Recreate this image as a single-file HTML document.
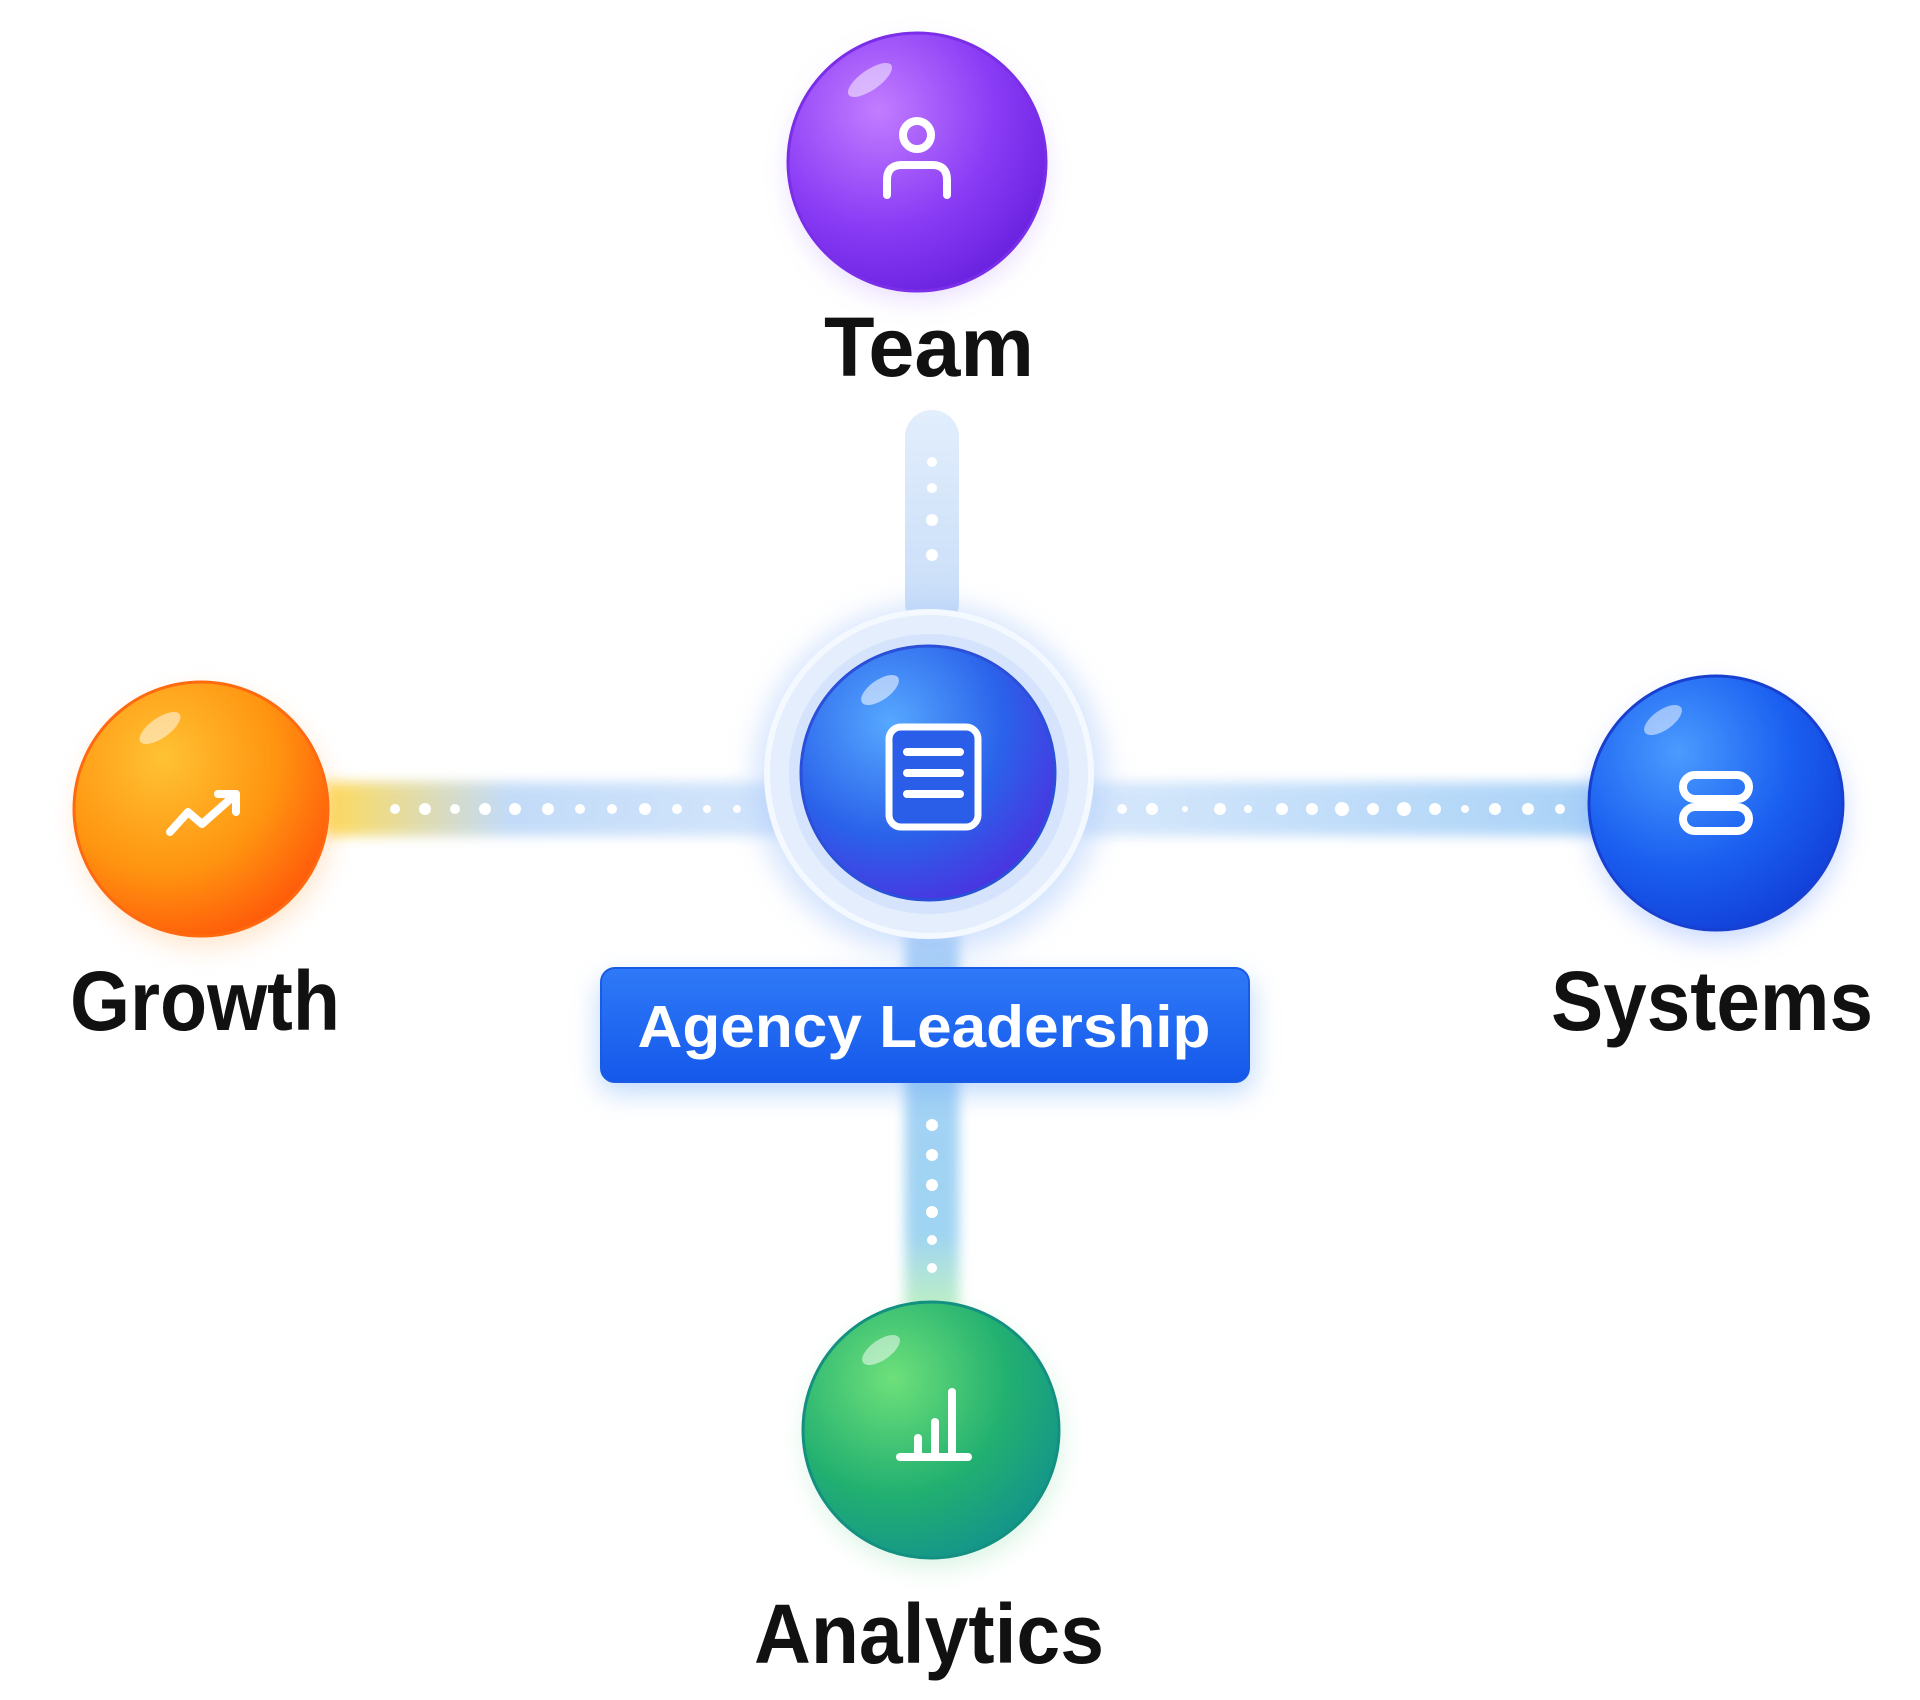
<!DOCTYPE html>
<html><head><meta charset="utf-8"><style>
html,body{margin:0;padding:0;background:#fff;width:1920px;height:1700px;overflow:hidden}
svg{display:block}
text{font-family:"Liberation Sans",sans-serif;font-weight:bold}
</style></head><body>
<svg width="1920" height="1700" viewBox="0 0 1920 1700">
<defs>
<filter id="blur" x="-50%" y="-50%" width="200%" height="200%"><feGaussianBlur stdDeviation="14"/></filter>
<filter id="blur2" x="-50%" y="-50%" width="200%" height="200%"><feGaussianBlur stdDeviation="6"/></filter>
<radialGradient id="gPurple" cx="35%" cy="30%" r="75%"><stop offset="0" stop-color="#c27cff"/><stop offset="0.6" stop-color="#8a3cf5"/><stop offset="1" stop-color="#6a22e0"/></radialGradient>
<radialGradient id="gOrange" cx="35%" cy="30%" r="75%"><stop offset="0" stop-color="#ffc233"/><stop offset="0.6" stop-color="#ff9410"/><stop offset="1" stop-color="#ff5a0a"/></radialGradient>
<radialGradient id="gBlue" cx="35%" cy="30%" r="75%"><stop offset="0" stop-color="#4a9bff"/><stop offset="0.6" stop-color="#1a5ff0"/><stop offset="1" stop-color="#1240d8"/></radialGradient>
<radialGradient id="gCenter" cx="35%" cy="30%" r="75%"><stop offset="0" stop-color="#56a8ff"/><stop offset="0.6" stop-color="#2a62ea"/><stop offset="1" stop-color="#4a34e0"/></radialGradient>
<radialGradient id="gGreen" cx="35%" cy="30%" r="75%"><stop offset="0" stop-color="#6ee07a"/><stop offset="0.6" stop-color="#22b070"/><stop offset="1" stop-color="#14958a"/></radialGradient>
<linearGradient id="barL" x1="0" x2="1"><stop offset="0" stop-color="#ffd84a"/><stop offset="0.4" stop-color="#bcd8f8"/><stop offset="1" stop-color="#cfe3fb"/></linearGradient>
<linearGradient id="barR" x1="0" x2="1"><stop offset="0" stop-color="#d4e6fb"/><stop offset="1" stop-color="#9fcdf7"/></linearGradient>
<linearGradient id="barB" x1="0" y1="0" x2="0" y2="1"><stop offset="0" stop-color="#a9cff7"/><stop offset="0.8" stop-color="#9fd4f2"/><stop offset="1" stop-color="#bff0c4"/></linearGradient>
<linearGradient id="barT" x1="0" y1="0" x2="0" y2="1"><stop offset="0" stop-color="#e2eefc"/><stop offset="1" stop-color="#c6dcf8"/></linearGradient>
<linearGradient id="boxG" x1="0" y1="0" x2="0" y2="1"><stop offset="0" stop-color="#2f7af8"/><stop offset="1" stop-color="#1458ea"/></linearGradient>
</defs>

<rect x="325" y="782" width="460" height="54" fill="url(#barL)" filter="url(#blur2)" opacity="0.9"/>
<rect x="1080" y="782" width="530" height="54" fill="url(#barR)" filter="url(#blur2)" opacity="0.9"/>
<rect x="905" y="410" width="54" height="220" rx="27" fill="url(#barT)"/>
<rect x="905" y="930" width="54" height="380" fill="url(#barB)" filter="url(#blur2)"/>
<g fill="#fff">
<circle cx="395" cy="809" r="5"/><circle cx="425" cy="809" r="6"/><circle cx="455" cy="809" r="5"/><circle cx="485" cy="809" r="6"/><circle cx="515" cy="809" r="6"/><circle cx="548" cy="809" r="6"/><circle cx="580" cy="809" r="5"/><circle cx="612" cy="809" r="5"/><circle cx="645" cy="809" r="6"/><circle cx="677" cy="809" r="5"/><circle cx="707" cy="809" r="4"/><circle cx="737" cy="809" r="4"/>
<circle cx="1122" cy="809" r="5"/><circle cx="1152" cy="809" r="6"/><circle cx="1185" cy="809" r="3"/><circle cx="1220" cy="809" r="6"/><circle cx="1248" cy="809" r="4"/><circle cx="1282" cy="809" r="6"/><circle cx="1312" cy="809" r="6"/><circle cx="1342" cy="809" r="7"/><circle cx="1373" cy="809" r="6"/><circle cx="1404" cy="809" r="7"/><circle cx="1435" cy="809" r="6"/><circle cx="1465" cy="809" r="4"/><circle cx="1495" cy="809" r="6"/><circle cx="1528" cy="809" r="6"/><circle cx="1560" cy="809" r="5"/>
<circle cx="932" cy="462" r="5"/><circle cx="932" cy="488" r="5"/><circle cx="932" cy="520" r="6"/><circle cx="932" cy="555" r="6"/>
<circle cx="932" cy="1125" r="6"/><circle cx="932" cy="1155" r="6"/><circle cx="932" cy="1185" r="6"/><circle cx="932" cy="1212" r="6"/><circle cx="932" cy="1240" r="5"/><circle cx="932" cy="1268" r="5"/>
</g>

<circle cx="917" cy="172" r="125" fill="#b58cff" opacity="0.35" filter="url(#blur)"/>
<circle cx="205" cy="820" r="125" fill="#ffae60" opacity="0.35" filter="url(#blur)"/>
<circle cx="1717" cy="815" r="125" fill="#5b8cff" opacity="0.35" filter="url(#blur)"/>
<circle cx="933" cy="1440" r="125" fill="#7fd9a0" opacity="0.35" filter="url(#blur)"/>
<circle cx="930" cy="780" r="175" fill="#a8c8fb" opacity="0.5" filter="url(#blur)"/>

<circle cx="929" cy="774" r="162" fill="#e4eefd" stroke="#f4f8ff" stroke-width="6"/>
<circle cx="929" cy="774" r="140" fill="#cfe0fb" opacity="0.7"/>
<circle cx="928" cy="773" r="127" fill="url(#gCenter)" stroke="#2a4fd8" stroke-width="3"/>
<ellipse cx="880" cy="690" rx="22" ry="10" fill="#fff" opacity="0.55" transform="rotate(-35 880 690)"/>
<rect x="889" y="727" width="89" height="100" rx="12" fill="#2a5ee8" stroke="#fff" stroke-width="7"/>
<g stroke="#fff" stroke-width="8" stroke-linecap="round"><line x1="907" y1="752" x2="960" y2="752"/><line x1="907" y1="773" x2="960" y2="773"/><line x1="907" y1="794" x2="960" y2="794"/></g>

<circle cx="917" cy="162" r="129" fill="url(#gPurple)" stroke="#7a2ee8" stroke-width="3"/>
<ellipse cx="870" cy="80" rx="26" ry="10" fill="#fff" opacity="0.5" transform="rotate(-35 870 80)"/>
<g fill="none" stroke="#fff" stroke-width="8" stroke-linecap="round"><circle cx="917" cy="135" r="14"/><path d="M887 195 V180 Q887 165 902 165 H932 Q947 165 947 180 V195"/></g>
<text x="929" y="376" font-size="84" text-anchor="middle" textLength="210" lengthAdjust="spacingAndGlyphs" fill="#111">Team</text>

<circle cx="201" cy="809" r="127" fill="url(#gOrange)" stroke="#ff6a10" stroke-width="3"/>
<ellipse cx="160" cy="728" rx="24" ry="10" fill="#fff" opacity="0.5" transform="rotate(-35 160 728)"/>
<g fill="none" stroke="#fff" stroke-width="8" stroke-linecap="round" stroke-linejoin="round"><path d="M170 832 L188 812 L202 824 L236 794"/><path d="M218 794 H236 V812"/></g>
<text x="205" y="1030" font-size="84" text-anchor="middle" textLength="270" lengthAdjust="spacingAndGlyphs" fill="#111">Growth</text>

<circle cx="1716" cy="803" r="127" fill="url(#gBlue)" stroke="#1840d0" stroke-width="3"/>
<ellipse cx="1663" cy="720" rx="22" ry="10" fill="#fff" opacity="0.5" transform="rotate(-35 1663 720)"/>
<g fill="none" stroke="#fff" stroke-width="8"><rect x="1683" y="775" width="66" height="24" rx="12"/><rect x="1683" y="807" width="66" height="24" rx="12"/></g>
<text x="1712" y="1030" font-size="84" text-anchor="middle" textLength="322" lengthAdjust="spacingAndGlyphs" fill="#111">Systems</text>

<circle cx="931" cy="1430" r="128" fill="url(#gGreen)" stroke="#139080" stroke-width="3"/>
<ellipse cx="881" cy="1350" rx="22" ry="10" fill="#fff" opacity="0.5" transform="rotate(-35 881 1350)"/>
<g stroke="#fff" stroke-width="8" stroke-linecap="round"><line x1="900" y1="1457" x2="968" y2="1457"/><line x1="918" y1="1457" x2="918" y2="1438"/><line x1="935" y1="1457" x2="935" y2="1422"/><line x1="952" y1="1457" x2="952" y2="1392"/></g>
<text x="929" y="1663" font-size="84" text-anchor="middle" textLength="350" lengthAdjust="spacingAndGlyphs" fill="#111">Analytics</text>

<rect x="600" y="980" width="652" height="112" rx="16" fill="#6aa8f6" opacity="0.45" filter="url(#blur)"/>
<rect x="601" y="968" width="648" height="114" rx="14" fill="url(#boxG)" stroke="#1a5be6" stroke-width="2"/>
<text x="924" y="1047" font-size="59" text-anchor="middle" textLength="573" lengthAdjust="spacingAndGlyphs" fill="#fff">Agency Leadership</text>
</svg>
</body></html>
